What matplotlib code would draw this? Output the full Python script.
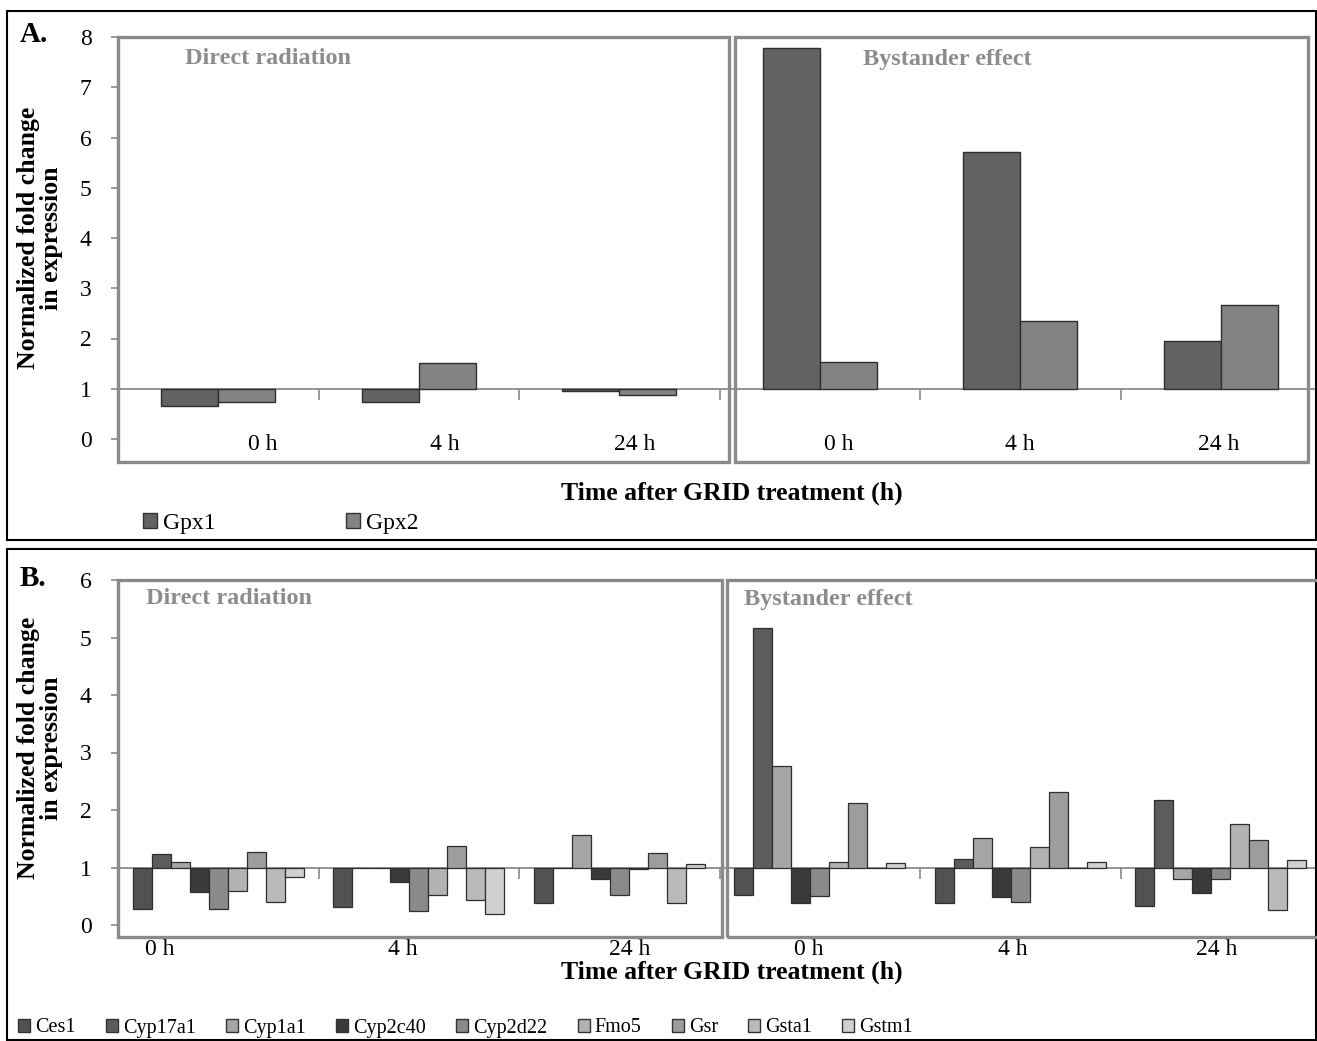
import matplotlib
matplotlib.use('Agg')
import matplotlib.pyplot as plt
from matplotlib.patches import Rectangle, Patch
import numpy as np

plt.rcParams['font.family'] = ['Liberation Serif', 'DejaVu Serif']

# ---------------- data ----------------
time_labels = ['0 h', '4 h', '24 h', '0 h', '4 h', '24 h']
conditions = ['Direct radiation', 'Bystander effect']

genes_a = ['Gpx1', 'Gpx2']
gpx1 = [0.66, 0.74, 0.96, 7.78, 5.72, 1.96]
gpx2 = [0.74, 1.52, 0.88, 1.54, 2.34, 2.66]
colors_a = ['#626262', '#838383']

genes_b = ['Ces1', 'Cyp17a1', 'Cyp1a1', 'Cyp2c40', 'Cyp2d22',
           'Fmo5', 'Gsr', 'Gsta1', 'Gstm1']
ces1 = [0.28, 0.31, 0.38, 0.52, 0.38, 0.33]
cyp17a1 = [1.24, 1.00, 1.00, 5.17, 1.15, 2.17]
cyp1a1 = [1.09, 1.00, 1.56, 2.76, 1.52, 0.80]
cyp2c40 = [0.57, 0.74, 0.80, 0.38, 0.48, 0.55]
cyp2d22 = [0.28, 0.24, 0.52, 0.50, 0.40, 0.80]
fmo5 = [0.60, 0.52, 0.97, 1.10, 1.36, 1.75]
gsr = [1.27, 1.37, 1.26, 2.13, 2.32, 1.47]
gsta1 = [0.40, 0.43, 0.38, 1.00, 1.00, 0.26]
gstm1 = [0.84, 0.20, 1.06, 1.08, 1.09, 1.13]
colors_b = ['#525252', '#5c5c5c', '#a6a6a6', '#3a3a3a', '#8a8a8a',
            '#b2b2b2', '#9d9d9d', '#bababa', '#d0d0d0']

# label offsets (in category units)
label_off_a = [0.22, 0.13, 0.075, 0.095, 0.0, -0.01]
label_off_b = [-0.29, -0.08, 0.05, -0.055, -0.035, -0.02]

# ---------------- layout ----------------
W, H = 1317, 1041
fig = plt.figure(figsize=(W / 100, H / 100), dpi=100)
GRAY = '#8a8a8a'
HEAD = '#8c8c8c'
FS = 16


def px_axes(left, top, right, bottom):
    return fig.add_axes([left / W, 1 - bottom / H, (right - left) / W, (bottom - top) / H])


def px_rect(x0, y0, x1, y1, **kw):
    r = Rectangle((x0 / W, 1 - y1 / H), (x1 - x0) / W, (y1 - y0) / H,
                  transform=fig.transFigure, fill=False, **kw)
    fig.add_artist(r)


def style_axes(ax, ymax, label_off, label_y):
    n = len(time_labels)
    ax.set_xlim(-0.5, -0.5 + 1199 / 200.5)
    ax.set_ylim(0, ymax)
    for s in ['top', 'right']:
        ax.spines[s].set_visible(False)
    ax.spines['left'].set_color(GRAY)
    ax.spines['left'].set_linewidth(2.2)
    ax.spines['bottom'].set_position(('data', 1))
    ax.spines['bottom'].set_color(GRAY)
    ax.spines['bottom'].set_linewidth(1.3)
    ax.set_xticks(np.arange(n - 1) + 0.5)
    ax.set_xticklabels([])
    ax.tick_params(axis='x', direction='out', length=8, color=GRAY, width=1.2)
    ax.set_yticks(range(0, ymax + 1))
    ax.tick_params(axis='y', direction='out', length=5, color=GRAY, width=1.2,
                   labelsize=FS + 1, pad=14)
    for i, (lab, off) in enumerate(zip(time_labels, label_off)):
        ax.text(i + off, label_y, lab, ha='center', va='center', fontsize=FS + 1,
                clip_on=False)
    ax.patch.set_alpha(0)


def heading(xc, yc, txt):
    fig.text(xc / W, 1 - yc / H, txt, ha='center', va='center',
             fontsize=17.5, fontweight='bold', color=HEAD)


def ylab(yc):
    fig.text(40 / W, 1 - yc / H, 'Normalized fold change\nin expression',
             rotation=90, ha='center', va='center', fontsize=18.5,
             fontweight='bold', linespacing=1.0)


def xlab(yc):
    fig.text(732 / W, 1 - yc / H, 'Time after GRID treatment (h)', ha='center',
             va='center', fontsize=18.5, fontweight='bold')


# ---------------- Panel A ----------------
px_rect(7, 11, 1316, 540, ec='black', lw=1.5)
axA = px_axes(118, 37, 1317, 439)
x = np.arange(len(time_labels))
wa = 0.285
for j, (vals, c, g) in enumerate(zip([gpx1, gpx2], colors_a, genes_a)):
    v = np.array(vals)
    axA.bar(x + (j - 0.5) * wa, v - 1, bottom=1, width=wa, color=c,
            edgecolor='#2e2e2e', linewidth=1.0, label=g, zorder=3)
style_axes(axA, 8, label_off_a, -0.1)
px_rect(118, 37, 729, 462, ec=GRAY, lw=2.4)
px_rect(735, 37, 1308, 462, ec=GRAY, lw=2.4)
heading(268, 59, conditions[0])
heading(947, 59, conditions[1])
fig.text(20 / W, 1 - 34 / H, 'A.', ha='left', va='center', fontsize=21,
         fontweight='bold')
ylab(238)
xlab(493)
hA = [Patch(facecolor=c, edgecolor='#333333', label=g) for c, g in zip(colors_a, genes_a)]
fig.legend(handles=hA, loc='center left', bbox_to_anchor=(143 / W, 1 - 523 / H),
           ncol=2, frameon=False, fontsize=FS + 1, handlelength=0.6, handleheight=0.6,
           handletextpad=0.25, columnspacing=5.5, borderpad=0, borderaxespad=0)

# ---------------- Panel B ----------------
px_rect(7, 549, 1316, 1040, ec='black', lw=1.5)
axB = px_axes(118, 580, 1317, 925)
series_b = [ces1, cyp17a1, cyp1a1, cyp2c40, cyp2d22, fmo5, gsr, gsta1, gstm1]
wb = 0.095
nb = len(series_b)
for j, (vals, c, g) in enumerate(zip(series_b, colors_b, genes_b)):
    v = np.array(vals)
    axB.bar(x + (j - (nb - 1) / 2) * wb, v - 1, bottom=1, width=wb, color=c,
            edgecolor='#2e2e2e', linewidth=0.9, label=g, zorder=3)
style_axes(axB, 6, label_off_b, -0.43)
px_rect(118, 580, 722, 937, ec=GRAY, lw=2.4)
px_rect(727, 580, 1330, 937, ec=GRAY, lw=2.4)
heading(229, 599, conditions[0])
heading(828, 599, conditions[1])
fig.text(20 / W, 1 - 578 / H, 'B.', ha='left', va='center', fontsize=21,
         fontweight='bold')
ylab(748)
xlab(972)
hB = [Patch(facecolor=c, edgecolor='#333333', label=g) for c, g in zip(colors_b, genes_b)]
fig.legend(handles=hB, loc='center left', bbox_to_anchor=(18 / W, 1 - 1028 / H),
           ncol=9, frameon=False, fontsize=14.5, handlelength=0.6, handleheight=0.6,
           handletextpad=0.25, columnspacing=1.5, borderpad=0, borderaxespad=0)

fig.savefig('out.png', dpi=100)
